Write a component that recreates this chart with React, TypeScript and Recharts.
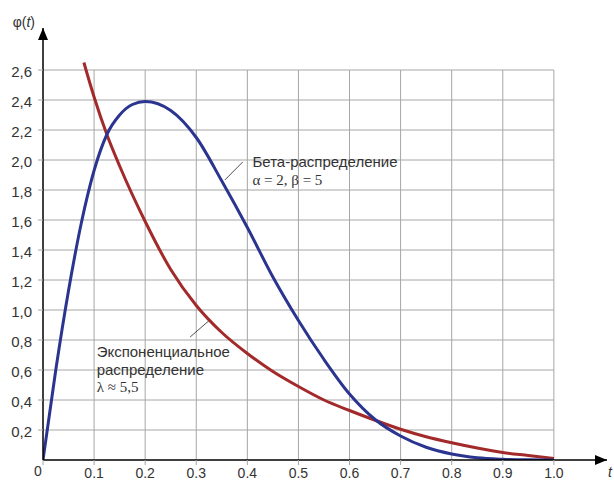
import React from 'react';
import { LineChart, Line, XAxis, YAxis, ReferenceLine, ReferenceDot } from 'recharts';

const betaT = [0, 0.025, 0.05, 0.075, 0.1, 0.125, 0.15, 0.175, 0.2, 0.25, 0.3, 0.35, 0.4, 0.45, 0.5, 0.55, 0.6, 0.65, 0.7, 0.75, 0.8, 0.85, 0.9, 0.95, 1.0];
const betaValues = [0, 0.6, 1.13, 1.58, 1.93, 2.17, 2.3, 2.37, 2.39, 2.33, 2.15, 1.86, 1.55, 1.22, 0.93, 0.67, 0.44, 0.27, 0.16, 0.085, 0.04, 0.015, 0.005, 0.001, 0];

const expT = [0.08, 0.1, 0.125, 0.15, 0.2, 0.25, 0.3, 0.35, 0.4, 0.45, 0.5, 0.55, 0.6, 0.65, 0.7, 0.75, 0.8, 0.85, 0.9, 0.95, 1.0];
const expValues = [2.65, 2.42, 2.17, 1.96, 1.59, 1.27, 1.03, 0.85, 0.71, 0.59, 0.49, 0.4, 0.33, 0.265, 0.205, 0.155, 0.115, 0.08, 0.05, 0.03, 0.01];

const xTicks = [0, 0.1, 0.2, 0.3, 0.4, 0.5, 0.6, 0.7, 0.8, 0.9, 1.0];
const yTicks = [0.2, 0.4, 0.6, 0.8, 1.0, 1.2, 1.4, 1.6, 1.8, 2.0, 2.2, 2.4, 2.6];

const betaData = betaT.map((t, i) => ({ t, v: betaValues[i] }));
const expData = expT.map((t, i) => ({ t, v: expValues[i] }));

const FONT = 'Arial, "Liberation Sans", sans-serif';
const SERIF = '"Liberation Serif", "DejaVu Serif", serif';
const GRID = '#a6a6a6';

const XTick = (props: any) => {
  const { x, y, payload } = props;
  if (payload.value === 0) {
    return <text x={x - 5} y={y + 9} textAnchor="middle" fontSize={14} fill="#333" fontFamily={FONT}>0</text>;
  }
  return <text x={x} y={y + 11} textAnchor="middle" fontSize={14} fill="#333" fontFamily={FONT}>{payload.value.toFixed(1)}</text>;
};

const UpArrow = (props: any) => (
  <g>
    <polygon points={`${props.cx},${props.cy} ${props.cx - 5},${props.cy + 12} ${props.cx + 5},${props.cy + 12}`} fill="#000" />
    <text x={props.cx - 8} y={props.cy - 1} textAnchor="end" fontSize={14} fill="#333" fontFamily={FONT}>
      φ(<tspan fontStyle="italic">t</tspan>)
    </text>
  </g>
);

const RightArrow = (props: any) => (
  <g>
    <polygon points={`${props.cx},${props.cy} ${props.cx - 12},${props.cy - 5} ${props.cx - 12},${props.cy + 5}`} fill="#000" />
    <text x={props.cx + 1} y={props.cy + 17} textAnchor="start" fontSize={14} fill="#333" fontFamily={FONT} fontStyle="italic">t</text>
  </g>
);

const BetaLabel = (props: any) => (
  <g fontSize={15} fill="#333">
    <text x={props.cx} y={props.cy} style={{ fontFamily: FONT }}>Бета-распределение</text>
    <text x={props.cx} y={props.cy + 18} style={{ fontFamily: SERIF }}>α = 2, β = 5</text>
  </g>
);

const ExpLabel = (props: any) => (
  <g fontSize={15} fill="#333">
    <text x={props.cx} y={props.cy} style={{ fontFamily: FONT }}>Экспоненциальное</text>
    <text x={props.cx} y={props.cy + 18} style={{ fontFamily: FONT }}>распределение</text>
    <text x={props.cx} y={props.cy + 35} style={{ fontFamily: SERIF }}>λ ≈ 5,5</text>
  </g>
);

export default function App() {
  return (
    <div style={{ width: 614, height: 481, background: '#fff' }}>
      <style>{'body{margin:0}'}</style>
      <LineChart width={614} height={481} margin={{ top: 28, right: 7, bottom: 0, left: 0 }}>
        <XAxis
          type="number"
          dataKey="t"
          domain={[0, 1.104]}
          ticks={xTicks}
          allowDataOverflow
          axisLine={{ stroke: '#000', strokeWidth: 1.5 }}
          tickLine={{ stroke: GRID }}
          tickSize={5}
          height={21}
          tick={<XTick />}
          interval={0}
        />
        <YAxis
          type="number"
          domain={[0, 2.88]}
          ticks={yTicks}
          allowDataOverflow
          width={43}
          axisLine={{ stroke: '#000', strokeWidth: 1.5 }}
          tickLine={{ stroke: GRID }}
          tickSize={5}
          tickMargin={6}
          interval={0}
          tick={{ fontSize: 15, fill: '#333', fontFamily: FONT, dy: 2 }}
          tickFormatter={(v: number) => v.toFixed(1).replace('.', ',')}
        />
        {yTicks.map((v) => (
          <ReferenceLine key={'h' + v} segment={[{ x: 0, y: v }, { x: 1, y: v }]} stroke={GRID} strokeWidth={1} />
        ))}
        {xTicks.filter((t) => t > 0).map((t) => (
          <ReferenceLine key={'v' + t} segment={[{ x: t, y: 0 }, { x: t, y: 2.6 }]} stroke={GRID} strokeWidth={1} />
        ))}
        <ReferenceLine segment={[{ x: 0.356, y: 1.867 }, { x: 0.391, y: 1.987 }]} stroke="#222" strokeWidth={0.8} />
        <ReferenceLine segment={[{ x: 0.288, y: 0.82 }, { x: 0.327, y: 0.935 }]} stroke="#222" strokeWidth={0.8} />
        <Line data={expData} dataKey="v" type="monotone" stroke="#a32a2a" strokeWidth={3} dot={false} isAnimationActive={false} />
        <Line data={betaData} dataKey="v" type="monotone" stroke="#2b3590" strokeWidth={3} dot={false} isAnimationActive={false} />
        <ReferenceDot x={0} y={2.88} r={0} ifOverflow="visible" shape={<UpArrow />} />
        <ReferenceDot x={1.104} y={0} r={0} ifOverflow="visible" shape={<RightArrow />} />
        <ReferenceDot x={0.41} y={1.955} r={0} ifOverflow="visible" shape={<BetaLabel />} />
        <ReferenceDot x={0.105} y={0.688} r={0} ifOverflow="visible" shape={<ExpLabel />} />
      </LineChart>
    </div>
  );
}
